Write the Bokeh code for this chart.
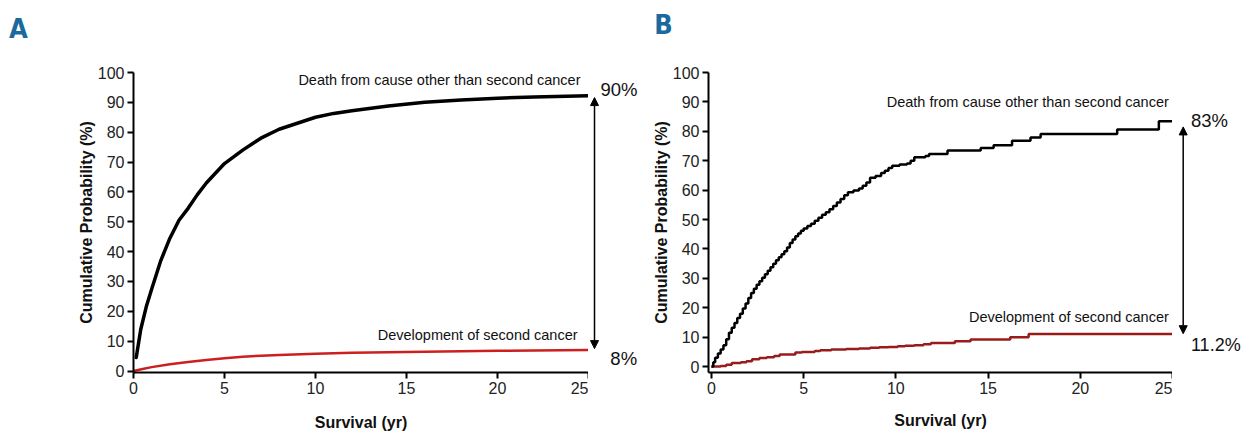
from bokeh.plotting import figure
from bokeh.layouts import row, column
from bokeh.models import Label, Arrow, NormalHead, Range1d, FixedTicker
from bokeh.embed import file_html
from bokeh.resources import INLINE

# ---------------- data ----------------
x_ticks = [0, 5, 10, 15, 20, 25]
y_ticks = [0, 10, 20, 30, 40, 50, 60, 70, 80, 90, 100]

# Panel A (smooth cumulative incidence)
a_death_t = [0.15, 0.4, 0.7, 1.0, 1.5, 2.0, 2.5, 3.0, 3.5, 4.0, 5.0, 6.0, 7.0, 8.0,
             9.0, 10.0, 11.0, 12.0, 14.0, 16.0, 18.0, 20.0, 22.0, 25.0]
a_death_v = [4.5, 14, 21.5, 27.5, 37, 44.5, 50.5, 54.5, 59, 63, 69.5, 74, 78, 81,
             83, 85, 86.3, 87.2, 88.8, 90, 90.8, 91.4, 91.8, 92.2]
a_cancer_t = [0, 0.5, 1, 2, 3, 4, 5, 6, 7, 8, 10, 12, 15, 20, 25]
a_cancer_v = [0, 0.7, 1.3, 2.3, 3.0, 3.7, 4.3, 4.8, 5.1, 5.4, 5.8, 6.1, 6.4, 6.8, 7.0]

# Panel B (step functions)
b_death_t = [0, 0.1, 0.2, 0.35, 0.5, 0.65, 0.8, 0.95, 1.1, 1.25, 1.4, 1.55, 1.7, 1.85,
             2.0, 2.15, 2.3, 2.45, 2.6, 2.75, 2.9, 3.05, 3.2, 3.35, 3.5, 3.65, 3.8, 3.95,
             4.1, 4.25, 4.4, 4.55, 4.7, 4.85, 5.0, 5.2, 5.4, 5.6, 5.8, 6.0, 6.2, 6.4,
             6.6, 6.8, 7.0, 7.2, 7.4, 7.7, 8.0, 8.2, 8.4, 8.6, 8.9, 9.2, 9.4, 9.6, 9.8,
             10.2, 10.6, 10.8, 11.0, 11.6, 11.8, 12.8, 14.6, 15.3, 16.3, 17.3, 17.85,
             22.0, 24.26, 25.05]
b_death_v = [0, 1.5, 3, 4.5, 5.8, 7.3, 9.3, 11.5, 13.2, 14.8, 16.5, 18, 19.8, 21.5,
             23.3, 25, 26.5, 27.8, 29, 30.2, 31.4, 32.6, 33.8, 35, 36.2, 37.2, 38.2, 39.2,
             40.5, 42, 43.2, 44.3, 45.3, 46.2, 47, 47.8, 48.6, 49.6, 50.6, 51.6, 52.5, 53.5,
             54.6, 55.8, 57, 58.3, 59.3, 59.9, 60.6, 61.5, 62.6, 64.2, 64.8, 65.8, 66.6, 67.5, 68.3,
             68.7, 69.1, 70, 71.2, 71.6, 72.3, 73.5, 74.3, 75.3, 76.8, 77.9, 79.1,
             80.6, 83.4, 83.4]
b_cancer_t = [0, 0.5, 0.8, 1.1, 1.6, 1.9, 2.2, 2.6, 3.0, 3.4, 3.7, 4.55, 4.9, 5.6, 5.9,
              6.5, 7.3, 8.0, 8.6, 9.1, 9.6, 10.1, 10.5, 11.0, 11.5, 11.9, 13.2, 14.05,
              16.2, 17.2, 25.05]
b_cancer_v = [0, 0.2, 0.6, 1.2, 1.5, 1.8, 2.5, 2.9, 3.2, 3.6, 4.1, 4.8, 5.0, 5.3, 5.6,
              5.8, 6.0, 6.2, 6.4, 6.6, 6.7, 6.9, 7.1, 7.3, 7.6, 8.0, 8.6, 9.2,
              9.95, 11.1, 11.1]

label_death = "Death from cause other than second cancer"
label_cancer = "Development of second cancer"
panel_letters = ["A", "B"]
a_pcts = ["90%", "8%"]
b_pcts = ["83%", "11.2%"]

FONT = "Liberation Sans"
STRIP_H = 45
MAIN_H = 433 - STRIP_H


def bare_fig(width, height, xr, yr, mbt=0, mbb=0):
    p = figure(width=width, height=height, x_range=xr, y_range=yr,
               output_backend="svg", toolbar_location=None,
               x_axis_type=None, y_axis_type=None,
               min_border_left=0, min_border_right=0,
               min_border_top=mbt, min_border_bottom=mbb)
    p.xgrid.visible = False
    p.ygrid.visible = False
    p.outline_line_color = None
    return p


def make_fig(width, mbl, mbt, mbb, xr, yr, xlab_standoff):
    p = figure(width=width, height=MAIN_H, x_range=Range1d(*xr), y_range=Range1d(*yr),
               output_backend="svg", toolbar_location=None,
               min_border_left=mbl, min_border_right=0,
               min_border_top=mbt, min_border_bottom=mbb)
    p.xgrid.visible = False
    p.ygrid.visible = False
    p.outline_line_color = None
    for ax in (p.xaxis[0], p.yaxis[0]):
        ax.axis_line_width = 2
        ax.axis_line_color = "black"
        ax.major_tick_line_width = 2
        ax.major_tick_line_color = "black"
        ax.major_tick_out = 6
        ax.major_tick_in = 0
        ax.minor_tick_line_color = None
        ax.major_label_text_font = FONT
        ax.major_label_text_font_size = "16px"
        ax.major_label_text_color = "#222222"
        ax.axis_label_text_font = FONT
        ax.axis_label_text_font_style = "bold"
        ax.axis_label_text_font_size = "16px"
        ax.axis_label_text_color = "#111111"
    p.xaxis.ticker = FixedTicker(ticks=x_ticks)
    p.yaxis.ticker = FixedTicker(ticks=y_ticks)
    p.xaxis.axis_label = "Survival (yr)"
    p.yaxis.axis_label = "Cumulative Probability (%)"
    p.xaxis.major_label_standoff = 3
    p.xaxis.axis_label_standoff = xlab_standoff
    p.yaxis.major_label_standoff = 3
    p.yaxis.axis_label_standoff = 0
    return p


def add_text(p, x, y, text, size, align, color="#111111", font=FONT, bold=False):
    p.add_layout(Label(x=x, y=y, text=text, text_font=font,
                       text_font_size=size, text_align=align,
                       text_baseline="middle", text_color=color,
                       text_font_style="bold" if bold else "normal"))


def add_arrow(p, x, y0, y1):
    p.add_layout(Arrow(x_start=x, y_start=y0, x_end=x, y_end=y1,
                       line_width=1.5, line_color="black",
                       start=NormalHead(size=8, fill_color="black", line_color="black"),
                       end=NormalHead(size=8, fill_color="black", line_color="black")))


# ---------------- top strip with the panel letters ----------------
strip = bare_fig(1246, STRIP_H, Range1d(0, 1246), Range1d(0, STRIP_H))
add_text(strip, 18, STRIP_H - 28, panel_letters[0], "27px", "center",
         color="#1b6a9d", font="DejaVu Sans Condensed", bold=True)
add_text(strip, 663, STRIP_H - 24, panel_letters[1], "27px", "center",
         color="#1b6a9d", font="DejaVu Sans Condensed", bold=True)

# ---------------- Panel A ----------------
pa = make_fig(588, 133, 71 - STRIP_H, 56, (0, 25), (-0.5, 100), 17)
pa.line(a_cancer_t, a_cancer_v, line_color="#cc2020", line_width=2.5)
pa.line(a_death_t, a_death_v, line_color="black", line_width=3.5, line_cap="round")
add_text(pa, 24.56, 97.6, label_death, "14.5px", "right")
add_text(pa, 24.4, 12.2, label_cancer, "14.5px", "right")

sa = bare_fig(52, MAIN_H, Range1d(25, 25 + 52 / 18.2), pa.y_range, 71 - STRIP_H, 56)
add_text(sa, 25.66, 94.4, a_pcts[0], "18.5px", "left")
add_text(sa, 26.2, 4.3, a_pcts[1], "18.5px", "left")
add_arrow(sa, 25.33, 7.5, 91.6)

# ---------------- Panel B ----------------
pb = make_fig(532, 68, 72 - STRIP_H, 60, (-0.16, 25), (-2, 100), 15)
pb.step(b_cancer_t, b_cancer_v, mode="after", line_color="#9a1b1b", line_width=2.5)
pb.step(b_death_t, b_death_v, mode="after", line_color="black", line_width=2.5)
add_text(pb, 24.8, 90.0, label_death, "14.5px", "right")
add_text(pb, 24.8, 16.9, label_cancer, "14.5px", "right")

sb = bare_fig(74, MAIN_H, Range1d(25, 25 + 74 / 18.44), pb.y_range, 72 - STRIP_H, 60)
add_text(sb, 26.0, 83.6, b_pcts[0], "18.5px", "left")
add_text(sb, 26.0, 7.3, b_pcts[1], "18px", "left")
add_arrow(sb, 25.58, 11.2, 81.5)

layout = column(strip, row(pa, sa, pb, sb))
open("out.html", "w").write(file_html(layout, INLINE))
